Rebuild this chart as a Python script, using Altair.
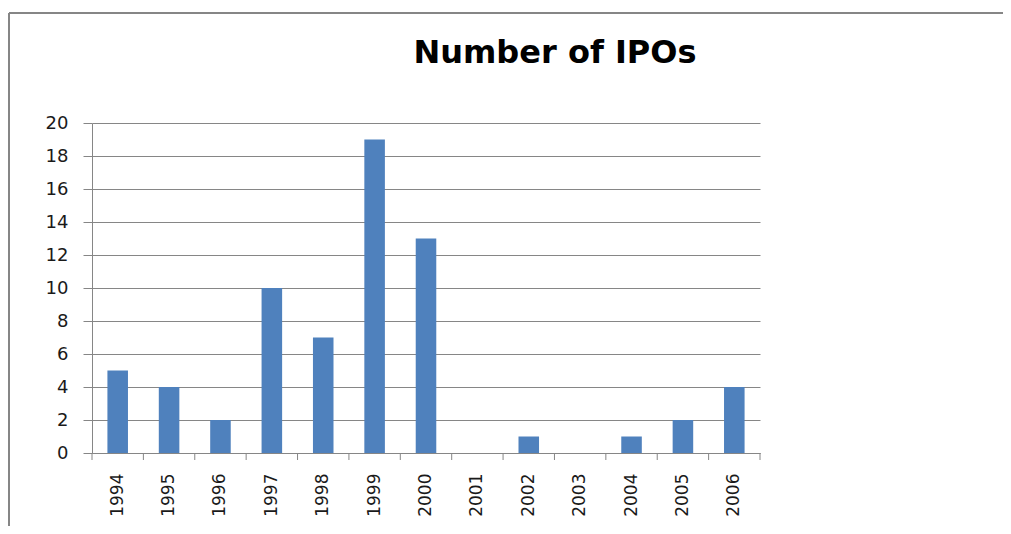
import altair as alt
import pandas as pd

years = ["1994", "1995", "1996", "1997", "1998", "1999", "2000",
         "2001", "2002", "2003", "2004", "2005", "2006"]
ipos = [5, 4, 2, 10, 7, 19, 13, 0, 1, 0, 1, 2, 4]
y_ticks = list(range(0, 21, 2))
title_text = ["Number of IPOs"]

df = pd.DataFrame({"year": years, "ipos": ipos})

GRAY = "#868686"
BLUE = "#4F81BD"
FONT = "DejaVu Sans"
W, H = 668, 330

xscale = alt.Scale(paddingInner=0, paddingOuter=0)

bars = alt.Chart(df).mark_bar(color=BLUE, width=alt.RelativeBandSize(0.4)).encode(
    x=alt.X("year:N", sort=None, scale=xscale,
            axis=alt.Axis(title=None, labelAngle=-90, ticks=False, labelPadding=20,
                          domainColor=GRAY, domainWidth=1, labelFont=FONT,
                          labelFontSize=17, labelColor="#1a1a1a")),
    y=alt.Y("ipos:Q", scale=alt.Scale(domain=[0, 20], nice=False),
            axis=alt.Axis(title=None, values=y_ticks, grid=True, gridColor=GRAY,
                          gridWidth=1, tickSize=9, tickColor=GRAY, domainColor=GRAY,
                          labelPadding=15, labelFont=FONT, labelFontSize=18,
                          labelColor="#1a1a1a")),
)

ticks = alt.Chart(df).mark_rule(color=GRAY, strokeWidth=1).encode(
    x=alt.X("year:N", sort=None, bandPosition=0),
    y=alt.value(H),
    y2=alt.value(H + 7),
)

end_tick = alt.Chart(df).transform_filter(alt.datum.year == years[-1]).mark_rule(
    color=GRAY, strokeWidth=1).encode(
    x=alt.X("year:N", sort=None, bandPosition=1),
    y=alt.value(H),
    y2=alt.value(H + 7),
)

one = pd.DataFrame({"a": [0]})
frame_top = alt.Chart(one).mark_rule(color=GRAY, strokeWidth=2).encode(
    x=alt.value(-83), x2=alt.value(W + 243), y=alt.value(-110))
frame_left = alt.Chart(one).mark_rule(color=GRAY, strokeWidth=2).encode(
    x=alt.value(-83), y=alt.value(-110), y2=alt.value(H + 73))

title = alt.Chart(pd.DataFrame({"t": title_text})).mark_text(
    font=FONT, fontSize=32, fontWeight="bold", color="#000000",
    align="center", baseline="alphabetic").encode(
    text="t:N", x=alt.value(W / 2 + 129), y=alt.value(-60))

chart = alt.layer(bars, ticks, end_tick, frame_top, frame_left, title).properties(
    width=W, height=H,
    autosize=alt.AutoSizeParams(type="none"),
    padding={"left": 84, "top": 115, "right": 243, "bottom": 73},
).configure_view(stroke=None)

chart.save("out.html", embed_options={"renderer": "svg", "actions": False})
